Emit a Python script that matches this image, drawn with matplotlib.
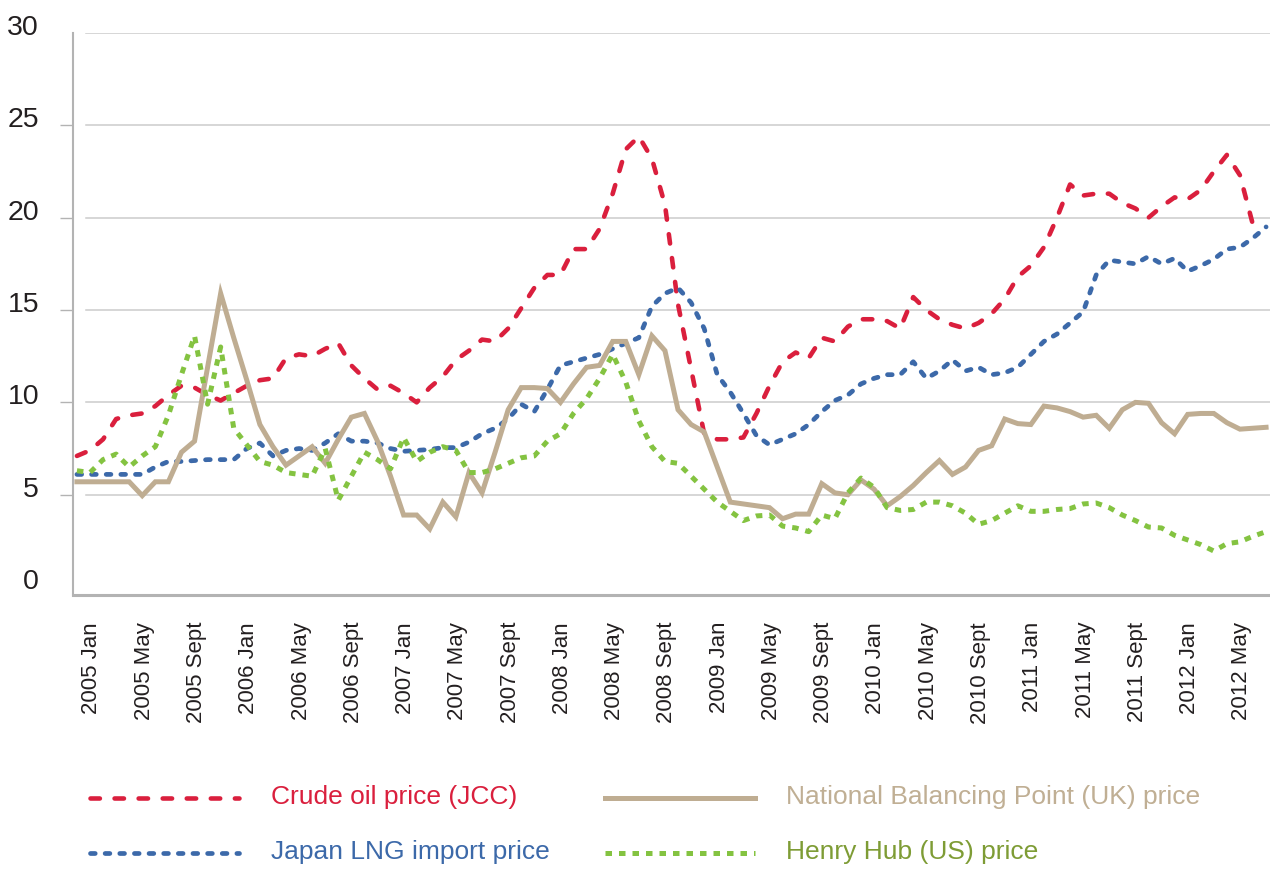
import numpy as np
import matplotlib
matplotlib.use('Agg')
import matplotlib.pyplot as plt
from matplotlib.transforms import ScaledTranslation

plt.rcParams['font.family'] = ['Liberation Sans', 'DejaVu Sans']

# monthly prices, 2005 Jan .. 2012 Aug
crude = [7.1, 7.4, 8.0, 9.1, 9.3, 9.4, 9.8, 10.4, 10.9, 10.8, 10.4, 10.1,
         10.5, 10.9, 11.2, 11.3, 12.4, 12.6, 12.5, 12.9, 13.2, 12.0, 11.3, 10.7,
         10.9, 10.5, 10.0, 10.8, 11.4, 12.3, 12.8, 13.4, 13.3, 14.0, 15.1, 16.2,
         16.9, 16.9, 18.3, 18.3, 19.4, 21.3, 23.7, 24.4, 23.2, 20.7, 15.3, 11.8,
         8.3, 8.0, 8.0, 8.1, 9.4, 10.9, 12.2, 12.7, 12.4, 13.5, 13.3, 14.1,
         14.5, 14.5, 14.4, 14.0, 15.7, 15.0, 14.5, 14.2, 14.0, 14.3, 14.8, 15.6,
         16.8, 17.4, 18.4, 20.0, 21.8, 21.2, 21.3, 21.3, 20.8, 20.5, 20.0, 20.6,
         21.1, 21.0, 21.5, 22.5, 23.4, 22.3, 19.6]
japan_lng = [6.1, 6.1, 6.1, 6.1, 6.1, 6.1, 6.5, 6.8, 6.8, 6.85, 6.9, 6.9,
             6.9, 7.5, 7.8, 7.1, 7.4, 7.5, 7.4, 7.8, 8.3, 7.9, 7.9, 7.8,
             7.5, 7.35, 7.4, 7.45, 7.55, 7.55, 7.85, 8.3, 8.6, 9.1, 9.9, 9.5,
             10.7, 12.0, 12.2, 12.4, 12.6, 12.9, 13.2, 13.5, 15.2, 15.9, 16.2, 15.4,
             14.0, 11.5, 10.55, 9.4, 8.2, 7.7, 8.0, 8.3, 8.8, 9.5, 10.1, 10.4,
             11.0, 11.3, 11.5, 11.5, 12.2, 11.3, 11.7, 12.3, 11.7, 11.9, 11.5, 11.6,
             11.9, 12.6, 13.3, 13.7, 14.3, 14.9, 16.9, 17.7, 17.6, 17.5, 17.9, 17.5,
             17.8, 17.1, 17.4, 17.75, 18.3, 18.4, 18.9, 19.5]
nbp = [5.7, 5.7, 5.7, 5.7, 5.7, 4.95, 5.7, 5.7, 7.3, 7.9, 11.9, 15.9,
       13.5, 11.2, 8.8, 7.6, 6.6, 7.1, 7.6, 6.7, 8.0, 9.2, 9.4, 7.9,
       6.0, 3.9, 3.9, 3.15, 4.6, 3.8, 6.2, 5.1, 7.3, 9.6, 10.8, 10.8,
       10.75, 10.0, 11.0, 11.9, 12.0, 13.3, 13.3, 11.5, 13.6, 12.8, 9.6, 8.8,
       8.4, 6.5, 4.6, 4.5, 4.4, 4.3, 3.7, 3.95, 3.95, 5.6, 5.1, 5.0,
       5.8, 5.3, 4.4, 4.9, 5.5, 6.2, 6.85, 6.1, 6.5, 7.4, 7.65, 9.1,
       8.85, 8.8, 9.8, 9.7, 9.5, 9.2, 9.3, 8.6, 9.6, 10.0, 9.95, 8.9,
       8.3, 9.35, 9.4, 9.4, 8.9, 8.55, 8.6, 8.65]
henry_hub = [6.3, 6.2, 6.9, 7.2, 6.5, 7.1, 7.6, 9.3, 11.5, 13.6, 9.9, 13.0,
             8.6, 7.7, 6.8, 6.6, 6.2, 6.1, 6.0, 7.5, 4.7, 6.0, 7.3, 6.9,
             6.4, 8.1, 6.8, 7.3, 7.6, 7.4, 6.2, 6.2, 6.4, 6.7, 7.0, 7.1,
             7.9, 8.3, 9.4, 10.2, 11.3, 12.6, 11.1, 9.0, 7.6, 6.8, 6.7, 6.0,
             5.3, 4.6, 4.1, 3.6, 3.85, 3.9, 3.3, 3.2, 3.0, 3.9, 3.7, 5.1,
             5.9, 5.4, 4.3, 4.15, 4.2, 4.6, 4.6, 4.4, 4.0, 3.4, 3.6, 4.0,
             4.4, 4.1, 4.1, 4.2, 4.25, 4.5, 4.55, 4.3, 3.9, 3.6, 3.25, 3.2,
             2.8, 2.55, 2.3, 1.95, 2.35, 2.45, 2.75, 3.0]

tick_labels = ['2005 Jan', '2005 May', '2005 Sept', '2006 Jan', '2006 May', '2006 Sept',
               '2007 Jan', '2007 May', '2007 Sept', '2008 Jan', '2008 May', '2008 Sept',
               '2009 Jan', '2009 May', '2009 Sept', '2010 Jan', '2010 May', '2010 Sept',
               '2011 Jan', '2011 May', '2011 Sept', '2012 Jan', '2012 May']
y_ticks = [0, 5, 10, 15, 20, 25, 30]

RED = '#DA1F3D'
BLUE = '#3C69A9'
TAN = '#BFAD92'
GREEN = '#84C341'

fig = plt.figure(figsize=(12.7, 8.71), dpi=100)
ax = fig.add_axes([73 / 1270, 276 / 871, 1197 / 1270, 562 / 871])

# gridlines start a little right of the axis line
for v in y_ticks[1:]:
    ax.axhline(v, xmin=13 / 1197, color='#CCCCCC', lw=1.1, zorder=0)

l1, = ax.plot(range(len(crude)), crude, color=RED, lw=3.3, dashes=(2.05, 3.2),
              dash_capstyle='round', label='Crude oil price (JCC)')
l2, = ax.plot(range(len(japan_lng)), japan_lng, color=BLUE, lw=3.4, dashes=(1.0, 2.1),
              dash_capstyle='round', label='Japan LNG import price')
l3, = ax.plot(range(len(nbp)), nbp, color=TAN, lw=3.6, solid_joinstyle='miter',
              label='National Balancing Point (UK) price')
l4, = ax.plot(range(len(henry_hub)), henry_hub, color=GREEN, lw=3.6, dashes=(1.3, 1.4),
              dash_capstyle='butt', label='Henry Hub (US) price')

ax.set_xlim(-0.3, 91.3)
ax.set_ylim(-0.43, 30)

for s in ['top', 'right']:
    ax.spines[s].set_visible(False)
ax.spines['left'].set_color('#B3B3B3')
ax.spines['left'].set_linewidth(1.5)
ax.spines['bottom'].set_color('#B3B3B3')
ax.spines['bottom'].set_linewidth(2.2)

ax.set_yticks(y_ticks)
ax.set_yticklabels([str(v) for v in y_ticks], fontsize=20.5, color='#231F20')
ax.tick_params(axis='y', length=9.4, width=1, color='#B3B3B3', pad=15)
yt = ax.yaxis.get_major_ticks()
yt[0].tick1line.set_visible(False)
yt[-1].tick1line.set_visible(False)
for lab in ax.get_yticklabels():
    lab.set_transform(lab.get_transform() + ScaledTranslation(0, 8 / 100, fig.dpi_scale_trans))

ax.set_xticks(np.arange(0, 92, 4))
ax.set_xticklabels(tick_labels, rotation=90, fontsize=16, color='#231F20')
ax.tick_params(axis='x', length=0, pad=19.4)
for lab in ax.get_xticklabels():
    lab.set_transform(lab.get_transform() + ScaledTranslation(15 / 100, 0, fig.dpi_scale_trans))

leg = fig.legend(handles=[l1, l2, l3, l4], loc='upper left',
                 bbox_to_anchor=(90 / 1270, 1 - 785 / 871), ncol=2, frameon=False,
                 fontsize=19, handlelength=5.66, handleheight=0.0, handletextpad=1.2,
                 columnspacing=2.1, labelspacing=1.19, borderpad=0, borderaxespad=0)
text_colors = [RED, BLUE, '#C0AF94', '#7E9C35']
for t, c in zip(leg.get_texts(), text_colors):
    t.set_color(c)

fig.savefig('out.png', dpi=100)
